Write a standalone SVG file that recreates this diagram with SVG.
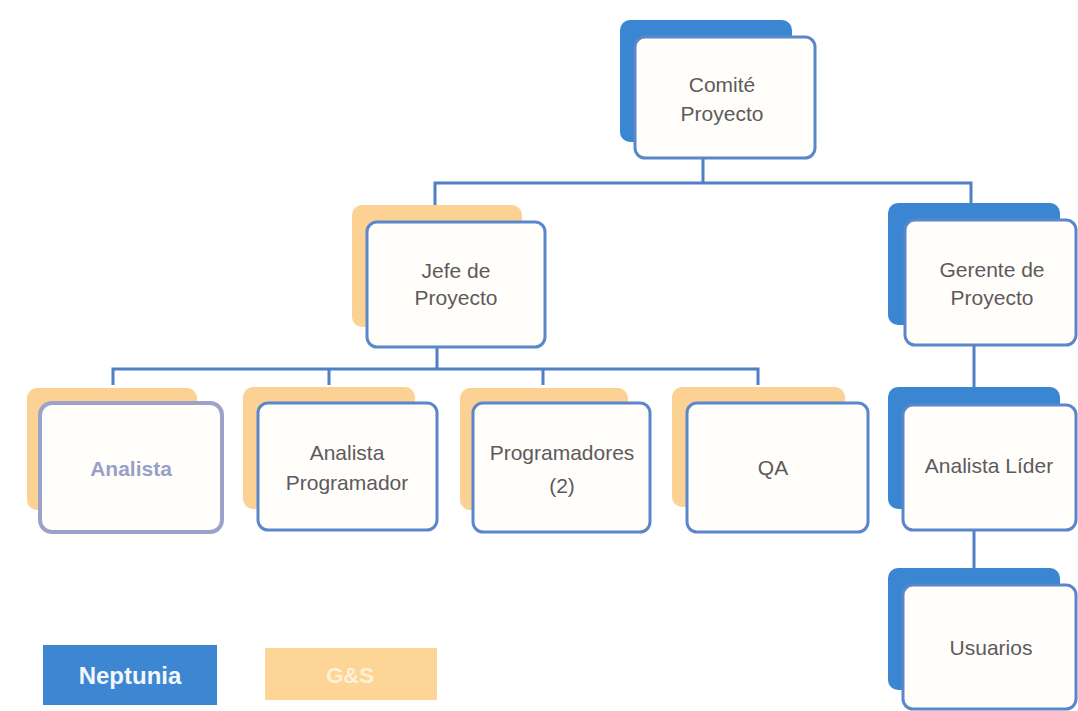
<svg xmlns="http://www.w3.org/2000/svg" width="1078" height="711" viewBox="0 0 1078 711">
  <style>
    .back-n { fill: #3a86d2; }
    .back-g { fill: #fcd294; }
    .front { fill: #fffefb; stroke: #5a86ca; stroke-width: 3; }
    .front-soft { fill: #fffefb; stroke: #9ca2ca; stroke-width: 4; }
    .label { font-family: "Liberation Sans", Arial, sans-serif; font-size: 21px; fill: #5e5a5c; text-anchor: middle; }
    .label-soft { fill: #98a0c6; font-weight: bold; }
    .wire { fill: none; stroke: #4f7fc6; stroke-width: 3; }
    .legend-text { font-family: "Liberation Sans", Arial, sans-serif; font-weight: bold; text-anchor: middle; }
  </style>

  <rect width="1078" height="711" fill="#ffffff"/>

  <!-- connectors -->
  <g id="connectors">
    <path class="wire" d="M703 158 V183 M435 205 V183 H971 V205"/>
    <path class="wire" d="M437 347 V369 M113 385 V369 H758 V385 M329 369 V385 M543 369 V385"/>
    <path class="wire" d="M974 345 V387"/>
    <path class="wire" d="M974 530 V568"/>
  </g>

  <g id="comite">
    <rect class="back-n" x="620" y="20" width="172" height="122" rx="10"/>
    <rect class="front" x="635" y="37" width="180" height="121" rx="10"/>
    <text class="label" x="722" y="92">Comité</text>
    <text class="label" x="722" y="121">Proyecto</text>
  </g>

  <g id="jefe">
    <rect class="back-g" x="352" y="205" width="170" height="122" rx="10"/>
    <rect class="front" x="367" y="222" width="178" height="125" rx="10"/>
    <text class="label" x="456" y="278">Jefe de</text>
    <text class="label" x="456" y="305">Proyecto</text>
  </g>

  <g id="gerente">
    <rect class="back-n" x="888" y="203" width="172" height="122" rx="10"/>
    <rect class="front" x="905" y="220" width="171" height="125" rx="10"/>
    <text class="label" x="992" y="277">Gerente de</text>
    <text class="label" x="992" y="305">Proyecto</text>
  </g>

  <g id="analista-lider">
    <rect class="back-n" x="888" y="387" width="172" height="122" rx="10"/>
    <rect class="front" x="903" y="405" width="173" height="125" rx="10"/>
    <text class="label" x="989" y="473">Analista Líder</text>
  </g>

  <g id="usuarios">
    <rect class="back-n" x="888" y="568" width="172" height="122" rx="10"/>
    <rect class="front" x="903" y="585" width="173" height="124" rx="10"/>
    <text class="label" x="991" y="655">Usuarios</text>
  </g>

  <g id="analista">
    <rect class="back-g" x="27" y="388" width="170" height="122" rx="10"/>
    <rect class="front-soft" x="40" y="403" width="182" height="129" rx="12"/>
    <text class="label label-soft" x="131" y="476">Analista</text>
  </g>

  <g id="analista-programador">
    <rect class="back-g" x="243" y="387" width="172" height="122" rx="10"/>
    <rect class="front" x="258" y="403" width="179" height="127" rx="10"/>
    <text class="label" x="347" y="460">Analista</text>
    <text class="label" x="347" y="490">Programador</text>
  </g>

  <g id="programadores">
    <rect class="back-g" x="460" y="388" width="168" height="122" rx="10"/>
    <rect class="front" x="473" y="403" width="177" height="129" rx="10"/>
    <text class="label" x="562" y="460">Programadores</text>
    <text class="label" x="562" y="493">(2)</text>
  </g>

  <g id="qa">
    <rect class="back-g" x="672" y="387" width="173" height="120" rx="10"/>
    <rect class="front" x="687" y="403" width="181" height="129" rx="10"/>
    <text class="label" x="773" y="475">QA</text>
  </g>

  <g id="legend-neptunia">
    <rect x="43" y="645" width="174" height="60" fill="#3d86d2"/>
    <text class="legend-text" x="130" y="684" font-size="24" fill="#f4f7fb">Neptunia</text>
  </g>

  <g id="legend-gs">
    <rect x="265" y="648" width="172" height="52" fill="#fdd596"/>
    <text class="legend-text" x="350" y="683" font-size="22" fill="#fff1d8">G&amp;S</text>
  </g>
</svg>
